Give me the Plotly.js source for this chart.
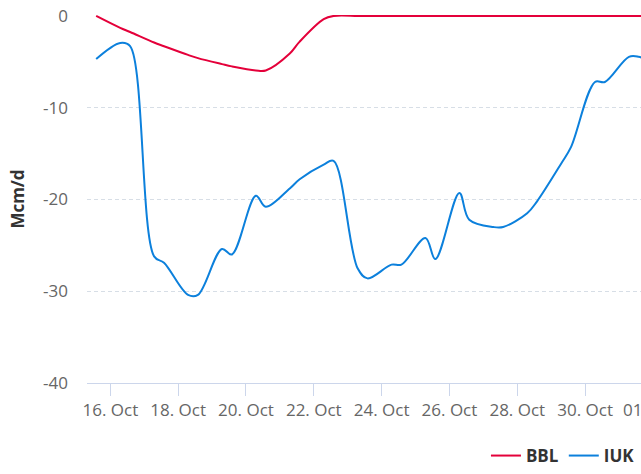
<!DOCTYPE html>
<html>
<head>
<meta charset="utf-8">
<script src="https://cdn.plot.ly/plotly-3.0.1.min.js"></script>
<style>
html,body{margin:0;padding:0;overflow:hidden;background:#fff;}
#chart{width:660px;height:474px;}
</style>
</head>
<body>
<div id="chart"></div>
<script>
const times = [
  '2021-10-15 14:00',
  '2021-10-16 07:00','2021-10-16 14:00',
  '2021-10-17 07:00','2021-10-17 14:00',
  '2021-10-18 07:00','2021-10-18 14:00',
  '2021-10-19 07:00','2021-10-19 14:00',
  '2021-10-20 07:00','2021-10-20 14:00',
  '2021-10-21 07:00','2021-10-21 14:00',
  '2021-10-22 07:00','2021-10-22 14:00',
  '2021-10-23 07:00','2021-10-23 14:00',
  '2021-10-24 07:00','2021-10-24 14:00',
  '2021-10-25 07:00','2021-10-25 14:00',
  '2021-10-26 07:00','2021-10-26 14:00',
  '2021-10-27 07:00','2021-10-27 14:00',
  '2021-10-28 07:00','2021-10-28 14:00',
  '2021-10-29 07:00','2021-10-29 14:00',
  '2021-10-30 07:00','2021-10-30 14:00',
  '2021-10-31 07:00','2021-10-31 14:00',
  '2021-11-01 07:00'
];
const bbl = [
  0,
  -1.3, -1.75,
  -2.9, -3.3,
  -4.25, -4.6,
  -5.25, -5.5,
  -5.95, -5.95,
  -4.1, -2.8,
  -0.35, 0,
  0, 0,
  0, 0,
  0, 0,
  0, 0,
  0, 0,
  0, 0,
  0, 0,
  0, 0,
  0, 0,
  0
];
const iuk = [
  -4.7,
  -2.95, -3.3,
  -26.2, -26.9,
  -30.4, -30.4,
  -25.4, -26.0,
  -19.6, -20.8,
  -18.8, -17.8,
  -16.2, -15.8,
  -27.5, -28.6,
  -27.1, -27.1,
  -24.2, -26.5,
  -19.3, -22.2,
  -23.0, -23.0,
  -21.5, -20.2,
  -16.1, -14.3,
  -7.2, -7.2,
  -4.46, -4.46,
  -5.5
];
const yTickVals = [-40, -30, -20, -10, 0];
const yTickText = ['-40', '-30', '-20', '-10', '0'];
const seriesNames = ['BBL', 'IUK'];
const seriesColors = ['#e4003a', '#0c80dc'];

const font = '"Open Sans", "Noto Sans", sans-serif';

const traces = [
  {x: times, y: bbl, name: seriesNames[0], type: 'scatter', mode: 'lines',
   line: {color: seriesColors[0], width: 2, shape: 'spline', smoothing: 1}},
  {x: times, y: iuk, name: seriesNames[1], type: 'scatter', mode: 'lines',
   line: {color: seriesColors[1], width: 2, shape: 'spline', smoothing: 1}}
];

const layout = {
  width: 660, height: 474,
  margin: {l: 87, r: 0, t: 15, b: 87},
  paper_bgcolor: '#ffffff', plot_bgcolor: '#ffffff',
  font: {family: font, color: '#666666', size: 17},
  showlegend: true,
  legend: {
    orientation: 'h', xanchor: 'right', yanchor: 'middle',
    x: 0.965, y: -0.199,
    font: {family: font, size: 17, color: '#333333', weight: 'bold'},
    bgcolor: 'rgba(0,0,0,0)', itemclick: false
  },
  xaxis: {
    type: 'date',
    range: ['2021-10-15 07:30', '2021-11-01 05:00'],
    tick0: '2021-10-16', dtick: 2 * 86400000,
    tickformat: '%d. %b',
    ticklabeloverflow: 'allow',
    showgrid: false, zeroline: false,
    showline: true, linecolor: '#ccd6eb', linewidth: 1,
    ticks: 'outside', ticklen: 12, tickcolor: '#ccd6eb', tickwidth: 1,
    tickfont: {family: font, size: 17, color: '#666666'}
  },
  yaxis: {
    range: [-40, 0.1],
    tickmode: 'array', tickvals: yTickVals, ticktext: yTickText,
    showgrid: true, gridcolor: '#d7dee6', griddash: '4px,3px', gridwidth: 1,
    zeroline: false, showline: false, ticks: '',
    ticklabelstandoff: 18,
    tickfont: {family: font, size: 17, color: '#666666'},
    title: {text: 'Mcm/d', standoff: 14,
            font: {family: font, size: 17, color: '#333333', weight: 'bold'}}
  }
};

Plotly.newPlot('chart', traces, layout, {displayModeBar: false, staticPlot: true});
</script>
</body>
</html>
